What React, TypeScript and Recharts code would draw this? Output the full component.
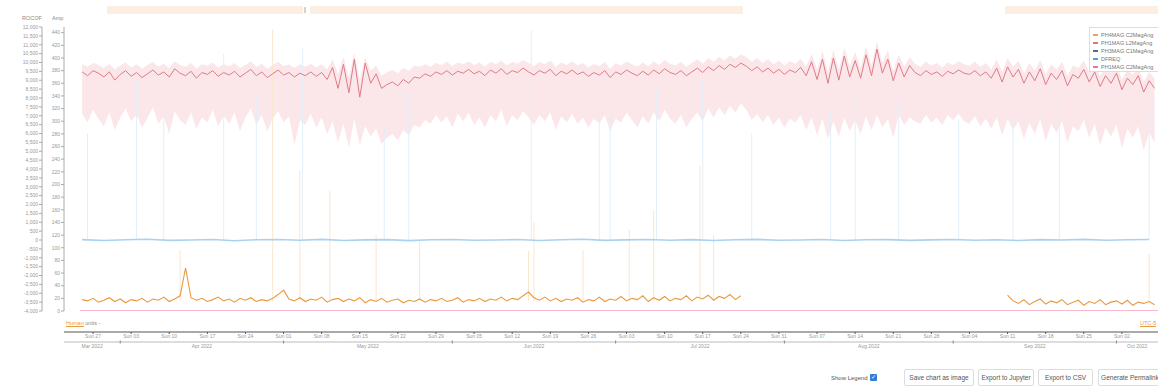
import React from "react";
import { ComposedChart, Line, Area, XAxis, YAxis } from "recharts";

// days are counted from Sun Mar 27 2022
const START_DAY = -2;
const X_MIN = -5.33;
const X_MAX = 195.63;

// PH1MAG L2MagAng (Amp), one value per day from Mar 25
const redMean = [
  378, 372, 380, 376, 370, 378, 365, 374, 380, 371,
  377, 369, 375, 381, 373, 378, 370, 383, 376, 372,
  379, 368, 377, 374, 380, 371, 377, 373, 379, 370,
  376, 382, 372, 378, 369, 375, 381, 373, 377, 370,
  376, 372, 378, 371, 377, 366, 385, 352, 390, 345,
  398, 338, 392, 360, 375, 352, 358, 362, 356, 366,
  360, 370, 368, 375, 371, 378, 374, 380, 373, 379,
  376, 382, 375, 379, 372, 381, 376, 383, 374, 380,
  377, 384, 378, 373, 380, 376, 382, 372, 379, 375,
  381, 374, 378, 371, 377, 373, 380, 369, 378, 374,
  381, 376, 372, 379, 373, 381, 375, 383, 377, 374,
  380, 372, 378, 384, 377, 386, 380, 388, 382, 390,
  385, 392, 387, 380, 386, 378, 384, 376, 382, 374,
  381, 377, 385, 372, 394, 366, 398, 360, 400, 365,
  403, 370, 396, 368, 405, 372, 414, 376, 398, 364,
  392, 370, 388, 377, 372, 380, 374, 378, 371, 379,
  375, 381, 376, 374, 380, 372, 378, 368, 384, 362,
  386, 370, 382, 360, 378, 364, 383, 358, 376, 366,
  380, 356, 374, 368, 382, 362, 378, 355, 372, 360,
  376, 350, 368, 358, 372, 346, 364, 352,
];

const bandHigh = [
  390, 386, 392, 389, 384, 391, 382, 388, 393, 385,
  390, 383, 389, 394, 386, 391, 384, 395, 389, 386,
  392, 383, 390, 388, 393, 385, 390, 387, 392, 384,
  389, 395, 386, 391, 383, 389, 394, 387, 390, 384,
  390, 386, 391, 385, 390, 382, 398, 375, 402, 370,
  408, 365, 402, 380, 388, 372, 378, 381, 376, 384,
  380, 388, 386, 390, 386, 392, 389, 394, 387, 393,
  390, 395, 389, 393, 386, 394, 390, 396, 388, 394,
  391, 397, 392, 387, 394, 390, 396, 386, 393, 389,
  395, 388, 392, 385, 391, 387, 394, 383, 392, 388,
  395, 390, 386, 393, 387, 395, 389, 397, 391, 388,
  394, 386, 392, 398, 391, 400, 394, 402, 396, 404,
  399, 406, 401, 394, 400, 392, 398, 390, 396, 388,
  395, 391, 399, 386, 407, 382, 411, 378, 413, 381,
  416, 386, 410, 384, 418, 388, 426, 392, 412, 380,
  405, 386, 401, 391, 386, 394, 388, 392, 385, 393,
  389, 395, 390, 388, 394, 386, 392, 382, 398, 378,
  400, 386, 396, 376, 392, 380, 397, 374, 390, 382,
  394, 372, 388, 384, 396, 378, 392, 371, 386, 376,
  390, 366, 382, 374, 386, 362, 378, 368,
];

const bandLow = [
  312, 298, 318, 304, 292, 314, 286, 306, 320, 300,
  310, 290, 305, 322, 296, 308, 280, 316, 302, 294,
  314, 288, 306, 298, 318, 292, 309, 296, 314, 284,
  306, 320, 294, 310, 284, 304, 316, 298, 308, 262,
  302, 294, 312, 290, 306, 280, 300, 266, 296, 258,
  304, 262, 292, 276, 288, 264, 274, 280, 270, 286,
  278, 294, 290, 302, 296, 310, 298, 308, 290, 312,
  300, 314, 294, 306, 290, 310, 300, 318, 292, 310,
  302, 316, 306, 294, 310, 300, 314, 286, 308, 298,
  312, 296, 306, 290, 304, 296, 310, 284, 304, 298,
  314, 302, 290, 308, 296, 314, 300, 318, 304, 296,
  310, 290, 304, 314, 300, 320, 306, 322, 310, 324,
  314, 328, 318, 302, 312, 298, 310, 294, 306, 290,
  304, 298, 310, 286, 306, 278, 304, 272, 300, 276,
  306, 284, 302, 280, 308, 286, 310, 290, 304, 274,
  310, 294, 306, 300, 296, 310, 298, 306, 294, 310,
  302, 312, 300, 296, 308, 292, 304, 288, 306, 278,
  304, 286, 300, 272, 298, 280, 304, 268, 296, 282,
  300, 266, 292, 284, 302, 274, 296, 262, 290, 276,
  294, 258, 288, 274, 292, 254, 282, 266,
];

// PH4MAG C2MagAng (Amp): Mar 25 - Jul 24, then from Sep 11
const orangeFirst = [
  18, 16, 20, 14, 17, 21, 15, 19, 13, 18,
  16, 20, 14, 19, 17, 22, 15, 19, 24, 68,
  21, 17, 20, 15, 18, 22, 16, 19, 14, 20,
  17, 21, 15, 18, 16, 20, 26, 33, 19, 16,
  21, 15, 19, 17, 22, 14, 18, 20, 15, 19,
  16, 21, 13, 18, 15, 20, 14, 17, 19, 13,
  17, 15, 19, 14, 18, 16, 20, 15, 17, 21,
  14, 18, 16, 20, 15, 19, 17, 22, 16, 20,
  18, 24, 30, 21, 17, 22, 16, 20, 15, 19,
  17, 21, 14, 18, 16, 22, 15, 19, 17, 23,
  16, 20, 18, 24, 15, 21, 17, 23, 16, 20,
  18, 24, 16, 22, 19, 25, 17, 23, 20, 26,
  18, 24,
];
const ORANGE_SECOND_START = 168;
const orangeSecond = [
  25, 16, 12, 18, 10, 15, 19, 11, 16, 13,
  18, 10, 14, 17, 9, 15, 12, 18, 10, 14,
  16, 11, 17, 9, 14, 12, 15, 10,
];

// DFREQ (ROCOF axis), one value every 4 days
const DFREQ_STEP = 4;
const dfreq = [
  20, -30, 10, 40, -20, 0, 30, -40, 15, 25,
  -10, 35, -25, 5, 20, -35, 10, 30, -15, 0,
  25, -30, 15, 40, -20, 5, 30, -10, 20, -25,
  10, 35, -15, 0, 25, -30, 15, 20, -20, 5,
  30, -10, 15, -25, 20, 0, 35, -15, 10, 25,
];

// thin min/max spikes: [day, top]
const ampSpikes: [number, number][] = [
  [16, 96], [33, 445], [38, 222], [43.5, 190], [52, 120], [60, 110],
  [80, 95], [81, 140], [90, 96], [98.5, 128], [103, 160], [111.5, 230],
  [114, 120], [194, 90],
];
const rocofSpikes: [number, number][] = [
  [-1, 6000], [8, 9000], [13, 7500], [24, 10500], [30, 8000], [38.5, 10800],
  [53.5, 6500], [58, 8200], [80.5, 11800], [93, 9500], [95, 7000],
  [103.5, 8500], [112, 9000], [121, 6000], [135.5, 7200], [140, 8400],
  [148, 7800], [159, 6800], [169, 7000], [177.5, 8200], [194, 7500],
];

const weekDays = [
  0, 7, 14, 21, 28, 35, 42, 49, 56, 63, 70, 77, 84, 91,
  98, 105, 112, 119, 126, 133, 140, 147, 154, 161, 168, 175, 182, 189,
];
const weekLabels = [
  "Sun 27", "Sun 03", "Sun 10", "Sun 17", "Sun 24", "Sun 01", "Sun 08",
  "Sun 15", "Sun 22", "Sun 29", "Sun 05", "Sun 12", "Sun 19", "Sun 26",
  "Sun 03", "Sun 10", "Sun 17", "Sun 24", "Sun 31", "Sun 07", "Sun 14",
  "Sun 21", "Sun 28", "Sun 04", "Sun 11", "Sun 18", "Sun 25", "Sun 02",
];
const monthStarts = [5, 35, 66, 96, 127, 158, 188];
const monthLabels = [
  "Mar 2022", "Apr 2022", "May 2022", "Jun 2022",
  "Jul 2022", "Aug 2022", "Sep 2022", "Oct 2022",
];

const ampTicks = [
  0, 20, 40, 60, 80, 100, 120, 140, 160, 180, 200, 220,
  240, 260, 280, 300, 320, 340, 360, 380, 400, 420, 440,
];
const rocofTicks = [
  -4000, -3500, -3000, -2500, -2000, -1500, -1000, -500, 0, 500, 1000,
  1500, 2000, 2500, 3000, 3500, 4000, 4500, 5000, 5500, 6000, 6500, 7000,
  7500, 8000, 8500, 9000, 9500, 10000, 10500, 11000, 11500, 12000,
];

const legendItems = [
  { name: "PH4MAG C2MagAng", color: "#f0a352" },
  { name: "PH1MAG L2MagAng", color: "#e0707e" },
  { name: "PH3MAG C1MagAng", color: "#4d6e8c" },
  { name: "DFREQ", color: "#4aa3e6" },
  { name: "PH1MAG C2MagAng", color: "#ee6fa2" },
];

const FONT = "'Liberation Sans', Arial, sans-serif";

const redData = redMean.map((v, i) => ({
  d: START_DAY + i,
  v,
  range: [bandLow[i], bandHigh[i]],
}));
const orangeData = [
  ...orangeFirst.map((v, i) => ({ d: START_DAY + i, v })),
  { d: START_DAY + orangeFirst.length, v: null },
  ...orangeSecond.map((v, i) => ({ d: ORANGE_SECOND_START + i, v })),
];
const dfreqData = dfreq.map((v, i) => ({ d: START_DAY + i * DFREQ_STEP, v }));
const spikeData = (list: [number, number][], base: number) =>
  list.flatMap(([d, top]) => [
    { d, v: base },
    { d, v: top },
    { d, v: null },
  ]);
const pinkData = [
  { d: START_DAY - 0.4, v: 0.4 },
  { d: X_MAX, v: 0.4 },
];

const monthEdges = [X_MIN, ...monthStarts, X_MAX];
const monthMids = monthLabels.map((_, i) => (monthEdges[i] + monthEdges[i + 1]) / 2);

const MonthTick = (props: any) => {
  const { x, y, payload } = props;
  const idx = monthMids.indexOf(payload.value);
  if (idx >= 0) {
    return (
      <text x={x} y={y + 6} textAnchor="middle" fontSize={5} fill="#999" fontFamily={FONT}>
        {monthLabels[idx]}
      </text>
    );
  }
  return <line x1={x} x2={x} y1={y - 1.5} y2={y + 1.5} stroke="#888" strokeWidth={1} />;
};

const fmt = (v: number) => v.toLocaleString("en-US");

// recharts stacks same-side axes by id order, so the ids carry a prefix
const AX_SPACER = "x0-spacer";
const AX_WEEK = "x1-week";
const AX_MONTH = "x2-month";

export default function App() {
  const small = { fontSize: 5, fill: "#999", fontFamily: FONT };
  return (
    <div
      style={{
        position: "absolute",
        left: 0,
        top: 0,
        width: 1158,
        height: 386,
        overflow: "hidden",
        background: "#fff",
        fontFamily: FONT,
      }}
    >
      {[
        { left: 107, width: 196 },
        { left: 310, width: 433 },
        { left: 1005, width: 153 },
      ].map((b, i) => (
        <div
          key={i}
          style={{ position: "absolute", top: 6, height: 8, left: b.left, width: b.width, background: "#fbeee2" }}
        />
      ))}
      <div style={{ position: "absolute", left: 304, top: 7, width: 2, height: 6, background: "#d8d0c8" }} />

      <div style={{ position: "absolute", left: 22, top: 15, fontSize: 5.5, color: "#888" }}>ROCOF</div>
      <div style={{ position: "absolute", left: 52, top: 15, fontSize: 5.5, color: "#888" }}>Amp</div>

      <div style={{ position: "absolute", left: 0, top: 0 }}>
        <ComposedChart width={1158} height={360} margin={{ top: 27, right: 0, bottom: 4, left: 0 }}>
          <XAxis
            xAxisId={AX_SPACER}
            type="number"
            dataKey="d"
            domain={[X_MIN, X_MAX]}
            allowDataOverflow
            height={21}
            axisLine={false}
            tickLine={false}
            tick={false}
          />
          <XAxis
            xAxisId={AX_WEEK}
            type="number"
            dataKey="d"
            domain={[X_MIN, X_MAX]}
            allowDataOverflow
            height={10}
            ticks={weekDays}
            interval={0}
            tickFormatter={(v: number) => weekLabels[weekDays.indexOf(v)] ?? ""}
            tick={small}
            tickSize={2}
            tickMargin={0}
            axisLine={{ stroke: "#555" }}
            tickLine={{ stroke: "#555" }}
          />
          <XAxis
            xAxisId={AX_MONTH}
            type="number"
            dataKey="d"
            domain={[X_MIN, X_MAX]}
            allowDataOverflow
            height={14}
            ticks={[...monthStarts, ...monthMids]}
            interval={0}
            tick={<MonthTick />}
            tickSize={0}
            tickMargin={0}
            tickLine={false}
            axisLine={{ stroke: "#bbb" }}
          />
          <YAxis
            yAxisId="amp"
            orientation="left"
            type="number"
            domain={[0, 449]}
            allowDataOverflow
            ticks={ampTicks}
            interval={0}
            width={22}
            tick={small}
            tickSize={3}
            tickMargin={1}
            axisLine={{ stroke: "#aaa" }}
            tickLine={{ stroke: "#aaa" }}
          />
          <YAxis
            yAxisId="rocof"
            orientation="left"
            type="number"
            domain={[-4000, 12000]}
            allowDataOverflow
            ticks={rocofTicks}
            interval={0}
            width={42}
            tickFormatter={fmt}
            tick={small}
            tickSize={3}
            tickMargin={1}
            axisLine={{ stroke: "#aaa" }}
            tickLine={{ stroke: "#aaa" }}
          />

          <Area
            data={redData}
            xAxisId={AX_WEEK}
            yAxisId="amp"
            dataKey="range"
            type="linear"
            stroke="none"
            fill="#f6c4cb"
            fillOpacity={0.4}
            isAnimationActive={false}
            activeDot={false}
          />
          <Line
            data={spikeData(rocofSpikes, 0)}
            xAxisId={AX_WEEK}
            yAxisId="rocof"
            dataKey="v"
            type="linear"
            stroke="#e2eff9"
            strokeWidth={1}
            dot={false}
            activeDot={false}
            isAnimationActive={false}
          />
          <Line
            data={spikeData(ampSpikes, 16)}
            xAxisId={AX_WEEK}
            yAxisId="amp"
            dataKey="v"
            type="linear"
            stroke="#fbe6cd"
            strokeWidth={1}
            dot={false}
            activeDot={false}
            isAnimationActive={false}
          />
          <Line
            data={dfreqData}
            xAxisId={AX_WEEK}
            yAxisId="rocof"
            dataKey="v"
            type="linear"
            stroke="#a9d2f2"
            strokeWidth={1.6}
            dot={false}
            activeDot={false}
            isAnimationActive={false}
          />
          <Line
            data={redData}
            xAxisId={AX_WEEK}
            yAxisId="amp"
            dataKey="v"
            type="linear"
            stroke="#e07a86"
            strokeWidth={1}
            dot={false}
            activeDot={false}
            isAnimationActive={false}
          />
          <Line
            data={orangeData}
            xAxisId={AX_WEEK}
            yAxisId="amp"
            dataKey="v"
            type="linear"
            stroke="#e8993e"
            strokeWidth={1.1}
            dot={false}
            activeDot={false}
            isAnimationActive={false}
          />
          <Line
            data={pinkData}
            xAxisId={AX_WEEK}
            yAxisId="amp"
            dataKey="v"
            type="linear"
            stroke="#f4a6b8"
            strokeWidth={1}
            dot={false}
            activeDot={false}
            isAnimationActive={false}
          />
        </ComposedChart>
      </div>

      <div style={{ position: "absolute", left: 66, top: 320, fontSize: 5.5, color: "#888", whiteSpace: "nowrap" }}>
        <span style={{ color: "#e8993e", borderBottom: "1px solid #e8993e" }}>Human</span> units -
      </div>
      <div
        style={{
          position: "absolute",
          left: 1140,
          top: 320,
          fontSize: 5.5,
          color: "#e8993e",
          borderBottom: "1px solid #e8993e",
        }}
      >
        UTC-5
      </div>

      <div
        style={{
          position: "absolute",
          left: 1089,
          top: 27,
          width: 80,
          height: 45,
          background: "#fff",
          border: "1px solid #ddd",
          boxSizing: "border-box",
          paddingTop: 3,
        }}
      >
        {legendItems.map((it) => (
          <div key={it.name} style={{ display: "flex", alignItems: "center", height: 8, fontSize: 5.5, color: "#777" }}>
            <span style={{ display: "inline-block", width: 5, height: 1.5, background: it.color, marginLeft: 3, marginRight: 3 }} />
            {it.name}
          </div>
        ))}
      </div>

      <div style={{ position: "absolute", left: 831, top: 375, fontSize: 6, color: "#555", whiteSpace: "nowrap" }}>
        Show Legend
      </div>
      <div
        style={{
          position: "absolute",
          left: 870,
          top: 374,
          width: 7,
          height: 7,
          background: "#2f7fd8",
          borderRadius: 1,
          color: "#fff",
          fontSize: 6,
          lineHeight: "7px",
          textAlign: "center",
        }}
      >
        ✓
      </div>
      {[
        { left: 904, width: 70, text: "Save chart as image" },
        { left: 978, width: 56, text: "Export to Jupyter" },
        { left: 1038, width: 55, text: "Export to CSV" },
        { left: 1098, width: 64, text: "Generate Permalink" },
      ].map((b) => (
        <div
          key={b.text}
          style={{
            position: "absolute",
            left: b.left,
            top: 369,
            width: b.width,
            height: 17,
            border: "1px solid #ddd",
            borderRadius: 2,
            boxSizing: "border-box",
            fontSize: 6.5,
            color: "#555",
            lineHeight: "15px",
            textAlign: "center",
            whiteSpace: "nowrap",
            overflow: "hidden",
          }}
        >
          {b.text}
        </div>
      ))}
    </div>
  );
}
